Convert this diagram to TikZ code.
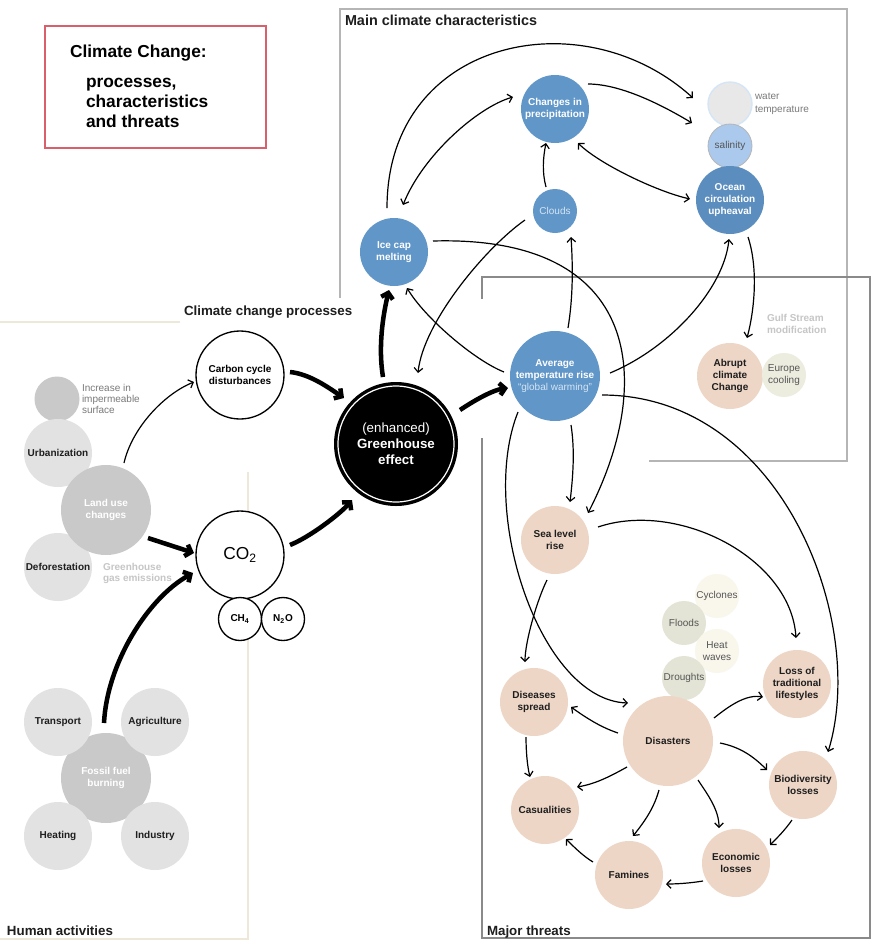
\documentclass[tikz,border=0pt]{standalone}
\usepackage{fontspec}
\setmainfont{Liberation Sans}
\usetikzlibrary{arrows.meta,calc}
\definecolor{cblue}{HTML}{6096C8}
\definecolor{cpeach}{HTML}{EDD6C6}
\definecolor{clgray}{HTML}{E2E2E2}
\definecolor{cmgray}{HTML}{C9C9C9}
\definecolor{csal}{HTML}{AAC9EC}
\definecolor{cwt}{HTML}{E8E8E8}
\definecolor{cwtedge}{HTML}{D3E5F6}
\definecolor{ceur}{HTML}{ECECDF}
\definecolor{ccream}{HTML}{F9F6EC}
\definecolor{cgreen}{HTML}{E3E4D5}
\definecolor{ctitle}{HTML}{D9606A}
\definecolor{cbox}{HTML}{8A8A8A}
\definecolor{cboxl}{HTML}{B5B5B5}
\definecolor{cbeige}{HTML}{EEE8D8}
\definecolor{txtdark}{HTML}{1E1E1E}
\definecolor{txtgray}{HTML}{7A7A7A}
\definecolor{txtmid}{HTML}{555555}
\definecolor{txtlight}{HTML}{C6C6C6}
\definecolor{cloudtxt}{HTML}{D6E5F3}
\newcommand\fnb{\fontsize{7.5}{9}\selectfont\bfseries}
\newcommand\fnr{\fontsize{7.5}{9}\selectfont}
\tikzset{
  circ/.style={circle,inner sep=0pt,outer sep=0pt,minimum size=#1*1.5pt,align=center,font=\fnb},
  blue/.style={fill=cblue,text=white},
  peach/.style={fill=cpeach,text=txtdark},
  lgray/.style={fill=clgray,text=txtdark},
  mgray/.style={fill=cmgray,text=white},
  wcirc/.style={draw=black,line width=1pt,fill=white,text=black},
  lite/.style={font=\fnr,text=txtmid},
  lbl/.style={anchor=base west,inner sep=0pt,outer sep=0pt},
  sect/.style={lbl,font=\fontsize{10}{12}\selectfont\bfseries,text=txtdark},
  small/.style={lbl,font=\fnr,text=txtgray},
  ghost/.style={lbl,font=\fnb,text=txtlight},
  tarr/.style={line width=0.9pt,-{Straight Barb[length=3.2pt,width=6.5pt]}},
  darr/.style={line width=0.9pt,{Straight Barb[length=3.2pt,width=6.5pt]}-{Straight Barb[length=3.2pt,width=6.5pt]}},
  barr/.style={line width=3.4pt,-{Straight Barb[length=4pt,width=9pt]}},
  boxline/.style={draw=cbox,line width=0.8pt},
  boxlite/.style={draw=cboxl,line width=0.8pt},
  beige/.style={draw=cbeige,line width=0.8pt}
}
\begin{document}
\begin{tikzpicture}[x=0.75pt,y=-0.75pt]
\useasboundingbox (0,0) rectangle (872,943);
\fill[white] (0,0) rectangle (872,943);

% ---------- boxes ----------
\draw[draw=ctitle,line width=0.8pt] (45,26) rectangle (266,148);
\draw[boxlite] (340,298) -- (340,9) -- (847,9) -- (847,461) -- (649,461);
\draw[boxline] (482,299) -- (482,277) -- (870,277) -- (870,938) -- (482,938) -- (482,438);
\draw[beige] (0,322) -- (180,322);
\draw[beige] (248,472) -- (248,939) -- (0,939);

% ---------- human activities ----------
\node[circ=22.5,fill=cmgray] (imp) at (57,399) {};
\node[circ=34,lgray] (urb) at (58,453) {Urbanization};
\node[circ=34,lgray] (defo) at (58,567) {Deforestation};
\node[circ=45,mgray] (land) at (106,510) {Land use\\changes};
\node[circ=45,mgray] (fossil) at (106,778) {Fossil fuel\\burning};
\node[circ=34,lgray] (trans) at (58,722) {Transport};
\node[circ=34,lgray] (agri) at (155,722) {Agriculture};
\node[circ=34,lgray] (heat) at (58,836) {Heating};
\node[circ=34,lgray] (ind) at (155,836) {Industry};

% ---------- processes ----------
\node[circ=44,wcirc] (carbon) at (240,375) {Carbon cycle\\disturbances};
\node[circ=44,wcirc,font=\fontsize{13}{15}\selectfont] (co2) at (240,555) {CO\textsubscript{2}};
\node[circ=21.5,wcirc] (ch4) at (240,619) {CH\textsubscript{4}};
\node[circ=21.5,wcirc] (n2o) at (283,619) {N\textsubscript{2}O};
\node[circ=62,fill=black,text=white,font=\fontsize{10}{12}\selectfont\bfseries] (gh) at (396,444) {{\mdseries (enhanced)}\\Greenhouse\\effect};
\node[circle,draw=white,line width=0.9pt,minimum size=58*1.5pt,inner sep=0pt] (ghring) at (gh) {};

% ---------- characteristics ----------
\node[circ=34,blue] (ice) at (394,252) {Ice cap\\melting};
\node[circ=34,blue] (prec) at (555,109) {Changes in\\precipitation};
\node[circ=22,fill=cwt,draw=cwtedge,line width=1pt] (wt) at (730,104) {};
\node[circ=22,fill=csal,draw=cboxl,line width=0.6pt,lite] (sal) at (730,146) {salinity};
\node[circ=34,blue,fill=cblue!95!black] (ocean) at (730,200) {Ocean\\circulation\\upheaval};
\node[circ=22,blue,font=\fnr,text=cloudtxt] (clouds) at (555,211) {Clouds};
\node[circ=45,blue] (avg) at (555,376) {Average\\temperature rise\\{\mdseries\color{cloudtxt}“global warming”}};

% ---------- threats ----------
\node[circ=33,peach] (abrupt) at (730,376) {Abrupt\\climate\\Change};
\node[circ=22,fill=ceur,lite] (europe) at (784,375) {Europe\\cooling};
\node[circ=34,peach] (sea) at (555,540) {Sea level\\rise};
\node[circ=22,fill=ccream,lite] (cyc) at (717,596) {Cyclones};
\node[circ=22,fill=cgreen,lite] (flood) at (684,623) {Floods};
\node[circ=22,fill=ccream,lite] (heatw) at (717,651) {Heat\\waves};
\node[circ=22,fill=cgreen,lite] (drought) at (684,678) {Droughts};
\node[circ=34,peach] (loss) at (797,684) {Loss of\\traditional\\lifestyles};
\node[circ=34,peach] (dis) at (534,702) {Diseases\\spread};
\node[circ=45,peach] (disas) at (668,741) {Disasters};
\node[circ=34,peach] (bio) at (803,785) {Biodiversity\\losses};
\node[circ=34,peach] (cas) at (545,810) {Casualities};
\node[circ=34,peach] (eco) at (736,863) {Economic\\losses};
\node[circ=34,peach] (fam) at (629,875) {Famines};

% ---------- thick arrows ----------
\draw[barr] ($(land)+(42,28)$) -- ($(co2)+(-46,-2)$);
\draw[barr] ($(fossil)+(-2,-55)$) .. controls +(3,-60) and +(-45,25) .. ($(co2)+(-47,18)$);
\draw[barr] ($(carbon)+(50,-3)$) .. controls +(20,2) and +(-15,-10) .. ($(gh)+(-52,-46)$);
\draw[barr] ($(co2)+(50,-10)$) .. controls +(20,-8) and +(-12,14) .. ($(gh)+(-44,56)$);
\draw[barr] ($(gh)+(-13,-67)$) .. controls +(-5,-30) and +(-6,25) .. ($(ice)+(-5,38)$);
\draw[barr] ($(gh)+(64,-34)$) .. controls +(15,-10) and +(-15,2) .. ($(avg)+(-47,12)$);

% ---------- thin arrows ----------
\draw[tarr] ($(land)+(18,-47)$) .. controls +(8,-35) and +(-30,12) .. ($(carbon)+(-46,7)$);
\draw[tarr] ($(ice)+(-7,-44)$) .. controls +(0,-170) and +(-110,-100) .. ($(wt)+(-37,-6)$);
\draw[darr] ($(ice)+(9,-47)$) .. controls +(20,-50) and +(-35,10) .. ($(prec)+(-42,-12)$);
\draw[tarr] ($(prec)+(33,-25)$) .. controls +(35,0) and +(-25,-15) .. ($(sal)+(-38,-23)$);
\draw[darr] ($(prec)+(23,34)$) .. controls +(20,20) and +(-35,-8) .. ($(ocean)+(-40,-1)$);
\draw[tarr] ($(clouds)+(-9,-24)$) .. controls +(-4,-15) and +(-3,15) .. ($(prec)+(-9,34)$);
\draw[tarr] ($(clouds)+(-30,9)$) .. controls +(-40,28) and +(5,-50) .. ($(gh)+(22,-71)$);
\draw[tarr] ($(avg)+(13,-48)$) .. controls +(5,-30) and +(2,30) .. ($(clouds)+(16,26)$);
\draw[tarr] ($(avg)+(-51,-4)$) .. controls +(-30,-12) and +(18,30) .. ($(ice)+(13,36)$);
\draw[tarr] ($(ice)+(39,-11)$) .. controls +(210,-6) and +(67,-130) .. ($(sea)+(33,-27)$);
\draw[tarr] ($(avg)+(55,-3)$) .. controls +(60,-25) and +(-5,50) .. ($(ocean)+(-1,39)$);
\draw[tarr] ($(ocean)+(18,37)$) .. controls +(10,30) and +(8,-30) .. ($(abrupt)+(17,-38)$);
\draw[tarr] ($(avg)+(16,49)$) .. controls +(4,25) and +(3,-25) .. ($(sea)+(15,-38)$);
\draw[tarr] ($(avg)+(-37,36)$) .. controls +(-40,100) and +(-88,-3) .. ($(disas)+(-40,-38)$);
\draw[tarr] ($(avg)+(47,19)$) .. controls +(180,0) and +(40,-130) .. ($(bio)+(25,-33)$);
\draw[tarr] ($(sea)+(43,-13)$) .. controls +(80,-27) and +(-5,-80) .. ($(loss)+(-1,-46)$);
\draw[tarr] ($(sea)+(-8,40)$) .. controls +(-10,20) and +(0,-20) .. ($(dis)+(-9,-40)$);
\draw[tarr] ($(dis)+(-8,35)$) .. controls +(0,12) and +(-3,-12) .. ($(cas)+(-15,-33)$);
\draw[tarr] ($(disas)+(-50,-8)$) .. controls +(-18,-6) and +(14,10) .. ($(dis)+(37,5)$);
\draw[tarr] ($(disas)+(46,-23)$) .. controls +(15,-12) and +(-17,-3) .. ($(loss)+(-34,13)$);
\draw[tarr] ($(disas)+(52,2)$) .. controls +(20,4) and +(-14,-14) .. ($(bio)+(-36,-15)$);
\draw[tarr] ($(disas)+(-41,26)$) .. controls +(-18,10) and +(18,-3) .. ($(cas)+(32,-23)$);
\draw[tarr] ($(disas)+(-9,49)$) .. controls +(-5,18) and +(12,-15) .. ($(fam)+(4,-39)$);
\draw[tarr] ($(disas)+(30,39)$) .. controls +(10,15) and +(0,-18) .. ($(eco)+(-17,-35)$);
\draw[tarr] ($(bio)+(-11,35)$) .. controls +(-7,10) and +(8,-8) .. ($(eco)+(34,-18)$);
\draw[tarr] ($(eco)+(-33,18)$) .. controls +(-12,2) and +(12,0) .. ($(fam)+(37,9)$);
\draw[tarr] ($(fam)+(-36,-13)$) .. controls +(-10,-6) and +(8,8) .. ($(cas)+(21,29)$);

% ---------- labels ----------
\node[lbl,font=\fontsize{13}{15}\selectfont\bfseries] (t1) at (70,57) {Climate Change:};
\node[lbl,font=\fontsize{13}{15}\selectfont\bfseries] (t2) at (86,87) {processes,};
\node[lbl,font=\fontsize{13}{15}\selectfont\bfseries] (t3) at (86,107) {characteristics};
\node[lbl,font=\fontsize{13}{15}\selectfont\bfseries] (t4) at (86,127) {and threats};
\node[sect,font=\fontsize{10.8}{12}\selectfont\bfseries] (smain) at (345,25) {Main climate characteristics};
\node[sect] (sproc) at (184,315) {Climate change processes};
\node[sect] (shum) at (7,935) {Human activities};
\node[sect] (sthr) at (487,935) {Major threats};
\node[small] (i1) at (82,391) {Increase in};
\node[small] (i2) at (82,402) {impermeable};
\node[small] (i3) at (82,413) {surface};
\node[small] (w1) at (755,99) {water};
\node[small] (w2) at (755,112) {temperature};
\node[ghost] (g1) at (103,570) {Greenhouse};
\node[ghost] (g2) at (103,581) {gas emissions};
\node[ghost] (gs1) at (767,321) {Gulf Stream};
\node[ghost] (gs2) at (767,333) {modification};
\end{tikzpicture}
\end{document}
